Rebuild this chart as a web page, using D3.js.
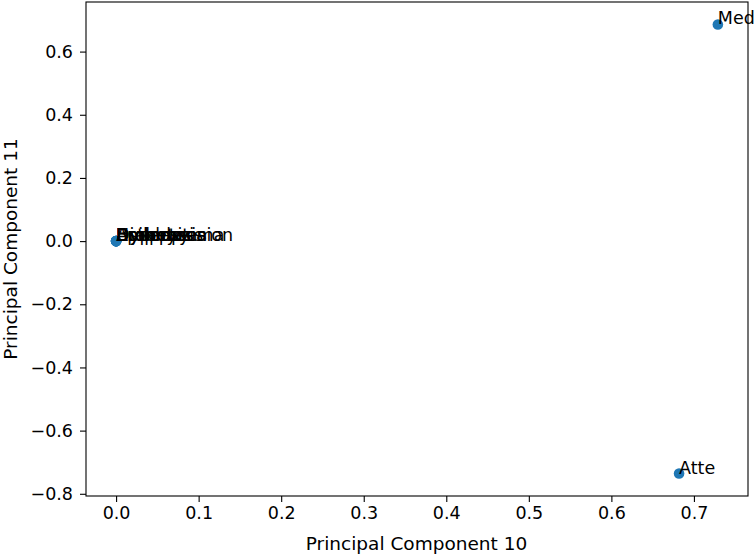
<!DOCTYPE html>
<html>
<head>
<meta charset="utf-8">
<script src="https://cdn.jsdelivr.net/npm/d3@7"></script>
<style>
  html, body { margin: 0; padding: 0; background: #fff; }
  svg { display: block; }
  text { font-family: "DejaVu Sans", sans-serif; }
</style>
</head>
<body>
<div id="chart"></div>
<script>
const labels = ["Dyspepsia", "Hypertension", "Emphysema", "Epilepsy", "Bronchitis", "Asthma", "Diabetes", "Atte", "Med"];
const pc10 = [0.0, 0.0, 0.0, 0.0, 0.0, 0.0, 0.0, 0.682, 0.729];
const pc11 = [0.0, 0.0, 0.0, 0.0, 0.0, 0.0, 0.0, -0.736, 0.686];
const xTicks = [0.0, 0.1, 0.2, 0.3, 0.4, 0.5, 0.6, 0.7];
const yTicks = [-0.8, -0.6, -0.4, -0.2, 0.0, 0.2, 0.4, 0.6];

const W = 755, H = 555;
const m = { left: 86, right: 7, top: 2, bottom: 59 };
const svg = d3.select("#chart").append("svg").attr("width", W).attr("height", H);

const x = d3.scaleLinear().domain([-0.03645, 0.7655]).range([m.left, W - m.right]);
const y = d3.scaleLinear().domain([-0.807, 0.757]).range([H - m.bottom, m.top]);

const fmt = d3.format(".1f");
const fs = 17.5;
const fsLabel = 18.5;

const xAxis = svg.append("g").attr("transform", `translate(0,${H - m.bottom})`)
  .call(d3.axisBottom(x).tickValues(xTicks).tickFormat(fmt).tickSize(6).tickPadding(5));
const yAxis = svg.append("g").attr("transform", `translate(${m.left},0)`)
  .call(d3.axisLeft(y).tickValues(yTicks).tickFormat(fmt).tickSize(6).tickPadding(7));
[xAxis, yAxis].forEach(g => {
  g.select(".domain").remove();
  g.selectAll(".tick line").attr("stroke", "#000").attr("stroke-width", 1.1);
  g.selectAll(".tick text").attr("fill", "#000").style("font-size", fs + "px").style("font-family", "DejaVu Sans");
});

// points
svg.append("g").selectAll("circle").data(labels).join("circle")
  .attr("cx", (d, i) => x(pc10[i]))
  .attr("cy", (d, i) => y(pc11[i]))
  .attr("r", 5.3)
  .attr("fill", "#1f77b4");

// labels
svg.append("g").selectAll("text").data(labels).join("text")
  .attr("x", (d, i) => x(pc10[i]))
  .attr("y", (d, i) => y(pc11[i]))
  .attr("fill", "#000")
  .style("font-size", fs + "px")
  .text(d => d);

// frame
svg.append("rect")
  .attr("x", m.left).attr("y", m.top)
  .attr("width", W - m.left - m.right).attr("height", H - m.top - m.bottom)
  .attr("fill", "none").attr("stroke", "#000").attr("stroke-width", 1.1);

svg.append("text").attr("x", (m.left + W - m.right) / 2 - 0.5).attr("y", 550)
  .attr("text-anchor", "middle").style("font-size", fsLabel + "px").attr("fill", "#000")
  .text("Principal Component 10");
svg.append("text")
  .attr("transform", `translate(17,${(m.top + H - m.bottom) / 2}) rotate(-90)`)
  .attr("text-anchor", "middle").style("font-size", fsLabel + "px").attr("fill", "#000")
  .text("Principal Component 11");
</script>
</body>
</html>
